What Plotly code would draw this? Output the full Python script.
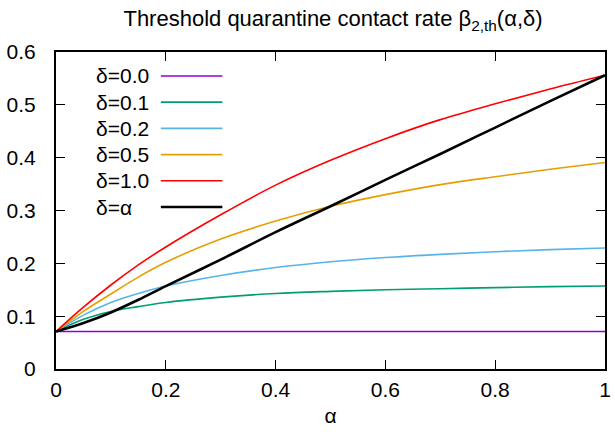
import plotly.graph_objects as go

# alpha grid (x values)
alpha = [0, 0.05, 0.1, 0.15, 0.2, 0.3, 0.4, 0.5, 0.6, 0.7, 0.8, 0.9, 1.0]

# series values
beta_d00 = [0.071] * 13
beta_d01 = [0.071, 0.094, 0.109, 0.118, 0.126, 0.136, 0.143, 0.147, 0.150, 0.152, 0.154, 0.156, 0.157]
beta_d02 = [0.071, 0.102, 0.126, 0.143, 0.157, 0.177, 0.192, 0.203, 0.211, 0.217, 0.222, 0.226, 0.229]
beta_d05 = [0.071, 0.109, 0.142, 0.174, 0.202, 0.246, 0.280, 0.308, 0.330, 0.349, 0.364, 0.378, 0.391]
beta_d10 = [0.071, 0.117, 0.159, 0.197, 0.231, 0.292, 0.348, 0.395, 0.436, 0.472, 0.502, 0.530, 0.556]
beta_da = [0.071, 0.087, 0.107, 0.131, 0.157, 0.207, 0.259, 0.308, 0.358, 0.407, 0.457, 0.507, 0.556]

labels = ["δ=0.0", "δ=0.1", "δ=0.2", "δ=0.5", "δ=1.0", "δ=α"]
series = [beta_d00, beta_d01, beta_d02, beta_d05, beta_d10, beta_da]
colors = ["#9400d3", "#009e73", "#56b4e9", "#e69f00", "#ff0000", "#000000"]
widths = [1.6, 1.6, 1.6, 1.6, 1.6, 2.6]

x_ticks = [0, 0.2, 0.4, 0.6, 0.8, 1]
y_ticks = [0, 0.1, 0.2, 0.3, 0.4, 0.5, 0.6]

FONT = "Liberation Sans, Arial, Helvetica, sans-serif"
FS = 21

fig = go.Figure()
for lab, ys, c, w in zip(labels, series, colors, widths):
    fig.add_trace(go.Scatter(x=alpha, y=ys, mode="lines", name=lab,
                             line=dict(color=c, width=w, shape="spline", smoothing=1.0),
                             showlegend=False, hoverinfo="skip"))

# gnuplot-style key: text on the left, line sample on the right
key_text_x = 0.0685
key_line_x0, key_line_x1 = 0.191, 0.303
key_y0, key_dy = 0.9245, 0.0827
for i, (lab, c, w) in enumerate(zip(labels, colors, widths)):
    yy = key_y0 - i * key_dy
    fig.add_annotation(x=key_text_x, y=yy, xref="paper", yref="paper", text=lab,
                       showarrow=False, xanchor="left", yanchor="middle",
                       font=dict(family=FONT, size=FS, color="black"))
    fig.add_shape(type="line", xref="paper", yref="paper",
                  x0=key_line_x0, x1=key_line_x1, y0=yy, y1=yy,
                  line=dict(color=c, width=w))

fig.update_layout(
    width=615, height=435,
    margin=dict(l=56, r=4, t=52, b=66),
    paper_bgcolor="white", plot_bgcolor="white",
    font=dict(family=FONT, size=FS, color="black"),
    title=dict(text="Threshold quarantine contact rate β<sub>2,th</sub>(α,δ)",
               x=0.5415, xanchor="center", y=0.958, yanchor="middle",
               font=dict(family=FONT, size=22, color="black")),
    hovermode=False,
)
fig.update_xaxes(range=[0, 1], tickvals=x_ticks, ticktext=[f"{v:g}" for v in x_ticks],
                 showgrid=False, zeroline=False, showline=True, linecolor="black", linewidth=2,
                 mirror="ticks", ticks="inside", ticklen=9, tickwidth=1, tickcolor="black",
                 ticklabelstandoff=1, ticklabeloverflow="allow",
                 title=dict(text="α", standoff=8, font=dict(size=FS)))
fig.update_yaxes(range=[0, 0.6], tickvals=y_ticks, ticktext=[f"{v:g}" for v in y_ticks],
                 showgrid=False, zeroline=False, showline=True, linecolor="black", linewidth=2,
                 mirror="ticks", ticks="inside", ticklen=9, tickwidth=1, tickcolor="black",
                 ticklabelstandoff=14)

fig.write_html("out.html", config={"displayModeBar": False},
               post_script="document.body.style.margin='0';document.body.style.overflow='hidden';")
